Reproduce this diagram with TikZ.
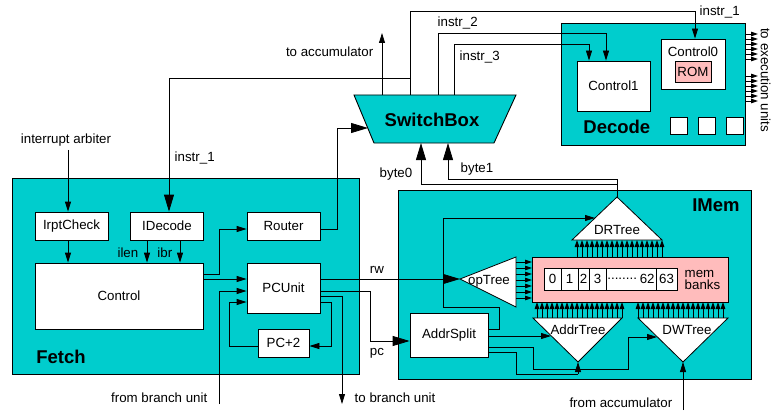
\documentclass[tikz,border=0pt]{standalone}
\usepackage{fontspec}
\setmainfont{Liberation Sans}
\usetikzlibrary{arrows.meta}
\definecolor{unitcyan}{RGB}{0,205,205}
\definecolor{mempink}{RGB}{255,188,188}
\tikzset{
  unit/.style={draw,fill=unitcyan,line width=.9pt},
  box/.style={draw,fill=white,inner sep=0pt},
  arr/.style={-{Triangle[length=10pt,width=6pt]}},
  bigarr/.style={-{Triangle[length=17pt,width=10pt]}},
  busarr/.style={-{Triangle[length=7pt,width=4.5pt]}},
  title/.style={font=\fontsize{18.5}{20}\selectfont\bfseries,inner sep=0pt},
}
\begin{document}
\begin{tikzpicture}[x=1pt,y=-1pt,line width=.8pt,font=\fontsize{13.3}{15}\selectfont]
\useasboundingbox (0,0) rectangle (772,412);
\draw[unit] (12,178) rectangle (359,374);
\draw[unit] (398,190) rectangle (751,379);
\draw[unit] (561,23) rectangle (745,145);
\draw[unit] (354,95) -- (516,95) -- (494,143) -- (374,143) -- cycle;
\node[title,anchor=base] (sb) at (432,126) {SwitchBox};
\node[title,anchor=base west] (fetchtxt) at (36,363) {Fetch};
\node[title,anchor=base west] (decodetxt) at (583,134) {Decode};
\node[title,anchor=base east] (imemtxt) at (740,211) {IMem};
\coordinate (swacc) at (382,95);
\coordinate (sw1) at (410,95);
\coordinate (sw2) at (438,95);
\coordinate (sw3) at (454,95);
\coordinate (swin) at (368,128);
\coordinate (swb0) at (421,143);
\coordinate (swb1) at (448,143);
\node[box,minimum width=73pt,minimum height=28pt] (irpt) at (71.5,226) {IrptCheck};
\node[box,minimum width=73pt,minimum height=28pt] (idec) at (167,226) {IDecode};
\node[box,minimum width=73pt,minimum height=28pt] (router) at (283.5,226) {Router};
\node[box,minimum width=168pt,minimum height=66pt] (control) at (119,296) {Control};
\node[box,minimum width=73pt,minimum height=50pt] (pcu) at (283.5,288) {PCUnit};
\node[box,minimum width=51pt,minimum height=28pt] (pc2) at (283.5,343) {PC+2};
\node[box,minimum width=78pt,minimum height=44pt] (addr) at (449,335) {AddrSplit};
\node[box,minimum width=73pt,minimum height=50pt] (ctl1) at (613.5,86) {Control1};
\node[box,minimum width=64pt,minimum height=50pt] (ctl0) at (693,64) {};
\node (ctl0txt) at (693,52) {Control0};
\node[box,fill=mempink,minimum width=36pt,minimum height=21pt] (rom) at (693,71.5) {ROM};
\foreach \x in {670,698,726}
  \draw[fill=white] (\x,117) rectangle ++(17,17);
\foreach \y in {34,39,...,59}
  \draw[busarr] (745,\y) -- (758,\y);
\foreach \y in {76,81,...,101}
  \draw[busarr] (745,\y) -- (758,\y);
\node[rotate=-90,inner sep=0pt] (exetxt) at (765.5,80) {to execution units};
\draw[fill=mempink] (532,257) rectangle (728,302);
\draw[fill=white] (544,268) rectangle (677,290);
\foreach \x in {561,578,589,606,656}
  \draw (\x,268) -- (\x,290);
\foreach \c/\t in {552.5/0,569.5/1,583.5/2,597.5/3,666.5/63}
  \node (cell\t) at (\c,279) {\t};
\node[anchor=west,inner sep=0pt] (dots) at (607,279) {........};
\node[anchor=east,inner sep=0pt] (cell62) at (655,279) {62};
\node[align=left,anchor=west] (memtxt) at (681,280) {mem\\[-3pt]banks};
\draw[fill=white] (617,197) -- (662,240) -- (572,240) -- cycle;
\node (drtxt) at (617,230) {DRTree};
\coordinate (drtop) at (617,197);
\coordinate (drin) at (595,218);
\draw[fill=white] (460,279) -- (516,257) -- (516,307) -- cycle;
\node (optxt) at (489,281) {opTree};
\coordinate (optip) at (460,279);
\draw[fill=white] (533,318) -- (622,318) -- (578,362) -- cycle;
\node (attxt) at (578,330) {AddrTree};
\coordinate (attip) at (578,362);
\coordinate (atin) at (551,336);
\draw[fill=white] (638,318) -- (728,318) -- (683,362) -- cycle;
\node (dwtxt) at (687,330) {DWTree};
\coordinate (dwtip) at (683,362);
\coordinate (dwin) at (657,337);
\foreach \x in {577,582,...,662}
  \draw[busarr] (\x,257) -- (\x,240);
\foreach \x in {537,542,...,622}
  \draw[busarr] (\x,318) -- (\x,302);
\foreach \x in {638,643,...,723}
  \draw[busarr] (\x,318) -- (\x,302);
\foreach \y in {262,268,...,298}
  \draw[busarr] (516,\y) -- (532,\y);
\draw[arr] (sw1) -- (410,11) -| ([xshift=2]ctl0.north);
\draw[bigarr] (410,78) -| ([xshift=2]idec.north);
\draw[arr] (sw2) -- (438,33) -| ([xshift=-7.5]ctl1.north);
\draw[arr] (sw3) -- (454,44) -| ([xshift=-24.5]ctl1.north);
\coordinate (toacc) at (382,33);
\draw[arr] (swacc) -- (toacc);
\node[anchor=west] (i1txt) at (696,12) {instr\_1};
\node[anchor=west] (i2txt) at (434,23) {instr\_2};
\node[anchor=west] (i3txt) at (456,57) {instr\_3};
\node[anchor=west] (i1btxt) at (171,158) {instr\_1};
\node[anchor=east] (acctxt) at (377,52) {to accumulator};
\node (arbtxt) at (66,140) {interrupt arbiter};
\draw[arr] ([xshift=-3.5]irpt.north |- arbtxt.south) -- ([xshift=-3.5]irpt.north);
\draw[arr] ([xshift=-3.5]irpt.south) -- ([xshift=-3.5]irpt.south |- control.north);
\draw[arr] ([xshift=-20]idec.south) -- ([xshift=-20]idec.south |- control.north);
\draw[arr] ([xshift=13]idec.south) -- ([xshift=13]idec.south |- control.north);
\node[anchor=east] (ilentxt) at (142,253) {ilen};
\node[anchor=east] (ibrtxt) at (176,253) {ibr};
\draw[arr] ([yshift=22]control.east) -- ++(16,0) |- ([yshift=-3]router.west);
\draw[bigarr] ([yshift=-3]router.east) -- ++(17,0) |- (swin);
\draw[arr] ([yshift=17]control.east) -- ([yshift=17]control.east -| pcu.west);
\coordinate (brin) at (219,404);
\coordinate (brout) at (342,404);
\draw[arr] (brin) |- ([yshift=-3]pcu.west);
\draw[arr] ([yshift=-8]pcu.east) -| (brout);
\node[anchor=east] (brintxt) at (211,398) {from branch unit};
\node[anchor=west] (brouttxt) at (351,398) {to branch unit};
\draw[arr] ([yshift=-14]pcu.east) -- ++(11,0) |- ([yshift=-3]pc2.east);
\draw[arr] ([yshift=-3]pc2.west) -- ++(-28,0) |- ([yshift=-14]pcu.west);
\draw[bigarr] ([yshift=9]pcu.east) -- (optip);
\node (rwtxt) at (377,270) {rw};
\draw[bigarr] ([yshift=-3]pcu.east) -- ++(50,0) |- ([yshift=-6]addr.west);
\node (pctxt) at (377,353) {pc};
\draw[arr] ([yshift=6]addr.east) -- ++(11,0) -- ++(0,-22) -- ++(-56,0) |- (drin);
\draw[arr] ([yshift=-1]addr.east) -- (atin);
\draw[arr] ([yshift=-12]addr.east) -| (533,369) -- (628,369) |- (dwin);
\draw ([yshift=-17]addr.east) -| (516,374) -- (578,374);
\draw[arr] (578,374) -- (attip);
\coordinate (accin) at (683,410);
\draw[arr] (accin) -- (dwtip);
\node[anchor=east] (accintxt) at (676,403) {from accumulator};
\draw (drtop) -- (617,179);
\draw[bigarr] (617,184) -| (swb0);
\draw[bigarr] (617,179) -| (swb1);
\node[anchor=east] (b0txt) at (416,174) {byte0};
\node[anchor=west] (b1txt) at (457,169) {byte1};
\end{tikzpicture}
\end{document}
